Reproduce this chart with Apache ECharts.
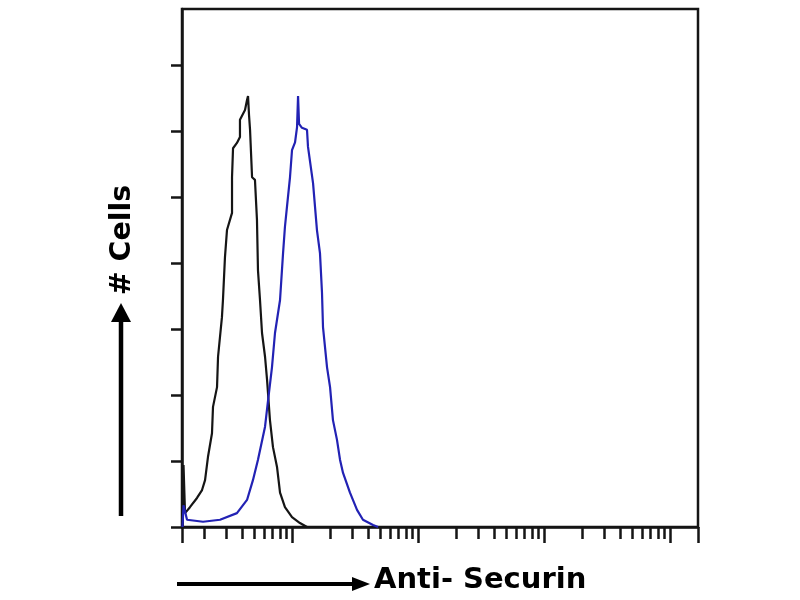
<!DOCTYPE html>
<html>
<head>
<meta charset="utf-8">
<script src="https://cdn.jsdelivr.net/npm/echarts@6/dist/echarts.min.js"></script>
<style>html,body{margin:0;padding:0;background:#fff}#c{width:800px;height:600px}</style>
</head>
<body>
<div id="c"></div>
<script>
// x values are log10(fluorescence intensity) (decades); y values are cell counts (tick units)
var controlX = [0.131,0.139,0.151,0.190,0.246,0.286,0.310,0.333,0.365,0.373,0.405,0.413,0.444,0.452,0.468,0.484,0.524,0.524,0.532,0.563,0.587,0.587,0.627,0.643,0.651,0.659,0.667,0.683,0.706,0.722,0.730,0.746,0.762,0.786,0.802,0.825,0.849,0.881,0.905,0.944,1.000,1.063,1.119];
var controlY = [0,0.94,0.21,0.30,0.44,0.56,0.71,1.06,1.42,1.82,2.12,2.58,3.18,3.44,4.09,4.50,4.76,5.30,5.74,5.82,5.91,6.17,6.32,6.47,6.53,6.24,6.02,5.30,5.26,4.65,3.89,3.44,2.94,2.58,2.23,1.62,1.21,0.91,0.52,0.30,0.15,0.06,0];
var securinX = [0.131,0.139,0.167,0.294,0.429,0.563,0.643,0.690,0.730,0.786,0.810,0.841,0.865,0.905,0.929,0.944,0.960,0.984,1.000,1.024,1.040,1.048,1.056,1.079,1.119,1.127,1.167,1.198,1.222,1.238,1.246,1.278,1.302,1.325,1.357,1.381,1.405,1.460,1.516,1.563,1.643,1.683];
var securinY = [0,0.33,0.11,0.08,0.11,0.21,0.41,0.71,1.02,1.52,1.92,2.42,2.94,3.44,4.15,4.55,4.85,5.30,5.71,5.83,6.06,6.53,6.11,6.05,6.02,5.76,5.21,4.50,4.15,3.55,3.03,2.42,2.12,1.62,1.32,1.02,0.82,0.52,0.26,0.11,0.03,0];
var xRange = [0.127, 4.222];           // decades shown on the x axis
var yRange = [0, 7.85];
var majorTickValues = [1, 10, 100, 1000, 10000];
var minorTickValues = [2,3,4,5,6,7,8,9,20,30,40,50,60,70,80,90,200,300,400,500,600,700,800,900,2000,3000,4000,5000,6000,7000,8000,9000,20000];
var yTickValues = [0,1,2,3,4,5,6,7];
var xTitle = 'Anti- Securin';
var yTitle = '# Cells';

function pairs(xs, ys){ return xs.map(function(x,i){ return [x, ys[i]]; }); }
function inRange(v){ return v >= xRange[0] && v <= xRange[1]; }
var majorLog = [xRange[0]].concat(majorTickValues.map(Math.log10).filter(inRange)).concat([xRange[1]]);
var minorLog = minorTickValues.map(Math.log10).filter(inRange);

var chart = echarts.init(document.getElementById('c'), null, {renderer:'canvas'});
var ink = '#151515';
chart.setOption({
  animation: false,
  backgroundColor: '#fff',
  grid: {left: 182, right: 102, top: 9, bottom: 73, show: true, borderColor: ink, borderWidth: 2.5, backgroundColor: 'transparent'},
  xAxis: [
    {type:'value', min:xRange[0], max:xRange[1], position:'bottom',
     axisLine:{show:true, onZero:false, lineStyle:{color:ink, width:2.5}},
     axisTick:{show:true, inside:false, length:16, customValues: majorLog, lineStyle:{color:ink, width:2.5}},
     axisLabel:{show:false}, splitLine:{show:false}},
    {type:'value', min:xRange[0], max:xRange[1], position:'bottom', offset:0,
     axisLine:{show:false},
     axisTick:{show:true, inside:false, length:12, customValues: minorLog, lineStyle:{color:ink, width:2.5}},
     axisLabel:{show:false}, splitLine:{show:false}}
  ],
  yAxis: {type:'value', min:yRange[0], max:yRange[1],
    axisLine:{show:true, onZero:false, lineStyle:{color:ink, width:2.5}},
    axisTick:{show:true, inside:false, length:11, customValues: yTickValues, lineStyle:{color:ink, width:2.5}},
    axisLabel:{show:false}, splitLine:{show:false}},
  series: [
    {name:'Control', type:'line', xAxisIndex:0, data: pairs(controlX, controlY), showSymbol:false, symbol:'none',
     lineStyle:{color:'#151515', width:2.2}, z:3},
    {name:'Anti-Securin', type:'line', xAxisIndex:0, data: pairs(securinX, securinY), showSymbol:false, symbol:'none',
     lineStyle:{color:'#2222b4', width:2.2}, z:4}
  ],
  graphic: [
    {type:'line', shape:{x1:177, y1:584, x2:356, y2:584}, style:{stroke:'#000', lineWidth:4}},
    {type:'polygon', shape:{points:[[352,577],[370,584],[352,591]]}, style:{fill:'#000'}},
    {type:'text', left:374, top:566, style:{text:xTitle, fill:'#000', font:'bold 29px "DejaVu Sans"'}},
    {type:'line', shape:{x1:121, y1:516, x2:121, y2:318}, style:{stroke:'#000', lineWidth:4.5}},
    {type:'polygon', shape:{points:[[111,322],[121,303],[131,322]]}, style:{fill:'#000'}},
    {type:'text', x:123, y:240, rotation:Math.PI/2,
     style:{text:yTitle, fill:'#000', font:'bold 28.5px "DejaVu Sans"', align:'center', verticalAlign:'middle'}}
  ]
});
</script>
</body>
</html>
